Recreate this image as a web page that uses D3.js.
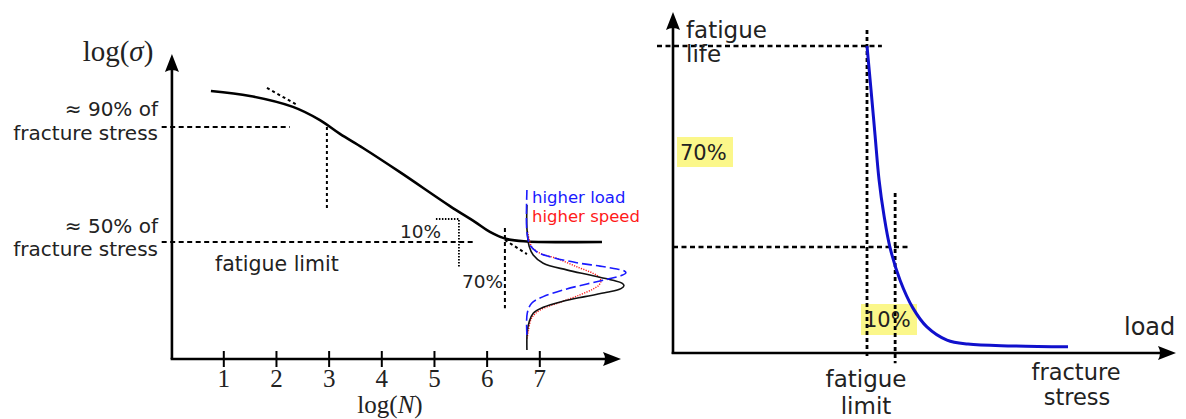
<!DOCTYPE html>
<html>
<head>
<meta charset="utf-8">
<script src="https://cdnjs.cloudflare.com/ajax/libs/d3/7.8.5/d3.min.js"></script>
<style>
  html, body { margin: 0; padding: 0; background: #fff; }
  svg { display: block; }
  .sans { font-family: "DejaVu Sans", sans-serif; fill: #222; }
  .serif { font-family: "Liberation Serif", "DejaVu Serif", serif; fill: #222; }
</style>
</head>
<body>
<svg id="chart" width="1186" height="419"></svg>
<script>
// ---------------- DATA (left panel: S-N curve, x = log N, y = relative log stress) ----------------
const xTicks = [1, 2, 3, 4, 5, 6, 7];
const snLogN   = [0.765, 1.506, 2.322, 2.835, 3.215, 3.652, 4.354, 5.303, 5.777, 6.062, 6.385, 6.765, 8.19];
const snStress = [1.025, 1.008, 0.970, 0.924, 0.876, 0.827, 0.743, 0.625, 0.570, 0.535, 0.510, 0.502, 0.500];

// distributions drawn at the right end (density, stress)
const distBase = 6.765;
const distBlackDensity = [0, 0, 0.023, 0.063, 0.163, 0.397, 0.63, 0.86, 0.95, 0.97, 0.94, 0.80, 0.58, 0.36, 0.163, 0.063, 0.023, 0.003, 0];
const distBlackStress  = [0.629, 0.548, 0.484, 0.455, 0.426, 0.403, 0.385, 0.367, 0.357, 0.348, 0.338, 0.325, 0.310, 0.294, 0.273, 0.252, 0.223, 0.188, 0.124];
const distBlueDensity  = [0, 0, 0.03, 0.097, 0.23, 0.497, 0.73, 0.90, 0.97, 0.99, 0.95, 0.80, 0.60, 0.37, 0.163, 0.047, 0.003, 0];
const distBlueStress   = [0.681, 0.536, 0.490, 0.466, 0.449, 0.428, 0.416, 0.406, 0.400, 0.393, 0.384, 0.370, 0.354, 0.334, 0.310, 0.287, 0.252, 0.177];
const distRedDensity   = [0.007, 0.047, 0.13, 0.297, 0.497, 0.663, 0.72, 0.74, 0.72, 0.66, 0.53, 0.33, 0.13, 0.047, 0.013, 0.003];
const distRedStress    = [0.536, 0.484, 0.461, 0.443, 0.414, 0.391, 0.378, 0.364, 0.350, 0.336, 0.316, 0.290, 0.263, 0.235, 0.188, 0.165];

// guide lines (left) in data units: [x1, y1, x2, y2]
const guide90     = [-0.17, 0.9, 2.263, 0.9];
const guide90Drop = [2.967, 0.9, 2.967, 0.611];
const guide50     = [-0.17, 0.5, 5.777, 0.5];
const box10       = [[5.037, 0.58], [5.474, 0.58], [5.474, 0.413]];
const drop70      = [6.347, 0.549, 6.347, 0.270];
const tangentTop  = [1.829, 1.036, 2.398, 0.977];
const tangentLow  = [6.347, 0.507, 6.765, 0.458];

// ---------------- DATA (right panel: fatigue life vs load) ----------------
const lifeLoad = [0.5, 0.51, 0.52, 0.530, 0.542, 0.557, 0.582, 0.614, 0.649, 0.699, 0.751, 0.863, 1.0];
const lifeVal  = [1.0, 0.857, 0.710, 0.564, 0.450, 0.345, 0.238, 0.147, 0.085, 0.042, 0.029, 0.023, 0.020];
const fatigueLimitLoad = 0.5;
const load10 = 0.570;
const life70 = 0.345;

// ---------------- SCALES ----------------
const svg = d3.select("#chart");
const x = d3.scaleLinear().domain([1, 7]).range([223.3, 539.3]);
const y = d3.scaleLinear().domain([0.5, 0.9]).range([242, 127]);
const dens = d3.scaleLinear().domain([0, 1]).range([x(distBase), x(distBase) + 100]);
const xl = d3.scaleLinear().domain([0.5, 1.0]).range([867, 1068]);
const yl = d3.scaleLinear().domain([0, 1]).range([353, 46]);

const L = svg.append("g");
const R = svg.append("g");

function arrow(g, tx, ty, dir) {
  const len = 18, hw = 7, notch = 4;
  let p;
  if (dir === "up") p = `M${tx},${ty} L${tx + hw},${ty + len} Q${tx},${ty + len - notch} ${tx - hw},${ty + len} Z`;
  else p = `M${tx},${ty} L${tx - len},${ty - hw} Q${tx - len + notch},${ty} ${tx - len},${ty + hw} Z`;
  g.append("path").attr("d", p).attr("fill", "#000");
}
function seg(g, a, dash, w, color) {
  g.append("line").attr("x1", a[0]).attr("y1", a[1]).attr("x2", a[2]).attr("y2", a[3])
    .attr("stroke", color || "#000").attr("stroke-width", w).attr("stroke-dasharray", dash);
}
const dataSeg = (a) => [x(a[0]), y(a[1]), x(a[2]), y(a[3])];

// ---------------- LEFT PANEL ----------------
const axX0 = x(0) + 1.3, axY0 = 359;
seg(L, dataSeg(guide90), "5,3.5", 1.8);
seg(L, dataSeg(guide90Drop), "3,3", 2);
seg(L, dataSeg(guide50), "5,3.5", 1.8);
L.append("path").attr("d", d3.line().x(d => x(d[0])).y(d => y(d[1]))(box10))
  .attr("fill", "none").attr("stroke", "#000").attr("stroke-width", 1.8).attr("stroke-dasharray", "1.5,1.5");
seg(L, dataSeg(drop70), "4,3", 2);
seg(L, dataSeg(tangentTop), "3,3", 2);
seg(L, dataSeg(tangentLow), "3,3", 2);

// axes
L.append("line").attr("x1", axX0).attr("y1", axY0).attr("x2", axX0).attr("y2", 66).attr("stroke", "#000").attr("stroke-width", 2.6);
arrow(L, axX0, 54, "up");
L.append("line").attr("x1", axX0 - 1.3).attr("y1", axY0).attr("x2", 608).attr("y2", axY0).attr("stroke", "#000").attr("stroke-width", 2.6);
arrow(L, 621, axY0, "right");

const xAxis = d3.axisBottom(x).tickValues(xTicks).tickSize(8).tickFormat(d3.format("d"));
const gx = L.append("g").attr("transform", `translate(0,${axY0})`).call(xAxis);
gx.select(".domain").remove();
gx.selectAll(".tick line").attr("y1", -8).attr("y2", 8).attr("stroke", "#000").attr("stroke-width", 2);
gx.selectAll(".tick text").attr("y", 28).attr("dy", null)
  .style("font-family", '"Liberation Serif", serif').style("font-size", "25px").attr("fill", "#222");

// S-N curve
const lineSN = d3.line().x(d => x(d[0])).y(d => y(d[1])).curve(d3.curveCatmullRom.alpha(0.5));
L.append("path").attr("d", lineSN(d3.zip(snLogN, snStress)))
  .attr("fill", "none").attr("stroke", "#000").attr("stroke-width", 2.6);

// distributions
const lineD = d3.line().x(d => dens(d[0])).y(d => y(d[1])).curve(d3.curveCatmullRom.alpha(0.5));
L.append("path").attr("d", lineD(d3.zip(distRedDensity, distRedStress)))
  .attr("fill", "none").attr("stroke", "#ff1a1a").attr("stroke-width", 1.4).attr("stroke-dasharray", "1.2,1.3");
L.append("path").attr("d", lineD(d3.zip(distBlackDensity, distBlackStress)))
  .attr("fill", "none").attr("stroke", "#111").attr("stroke-width", 1.6);
L.append("path").attr("d", lineD(d3.zip(distBlueDensity, distBlueStress)))
  .attr("fill", "none").attr("stroke", "#1a1aff").attr("stroke-width", 1.6).attr("stroke-dasharray", "10,4");

// left texts
const lt = (tx, ty, s, size, anchor, color) => L.append("text").attr("x", tx).attr("y", ty)
  .attr("class", "sans").style("font-size", size + "px").attr("text-anchor", anchor || "start")
  .style("fill", color || "#222").text(s);

const ls = L.append("text").attr("x", 118).attr("y", 61).attr("text-anchor", "middle")
  .attr("class", "serif").style("font-size", "29px");
ls.append("tspan").text("log(");
ls.append("tspan").style("font-style", "italic").text("σ");
ls.append("tspan").text(")");

const ln = L.append("text").attr("x", 390).attr("y", 413).attr("text-anchor", "middle")
  .attr("class", "serif").style("font-size", "25px");
ln.append("tspan").text("log(");
ln.append("tspan").style("font-style", "italic").text("N");
ln.append("tspan").text(")");

lt(158, 116, "≈ 90% of", 20, "end");
lt(158, 140, "fracture stress", 20, "end");
lt(158, 233, "≈ 50% of", 20, "end");
lt(158, 256, "fracture stress", 20, "end");
lt(215, 271, "fatigue limit", 20.5);
lt(400, 238, "10%", 18.5);
lt(462, 288, "70%", 18.5);
lt(532, 203, "higher load", 16.5, "start", "#1a1aff");
lt(532, 222, "higher speed", 16.5, "start", "#ff1a1a");

// ---------------- RIGHT PANEL ----------------
const rAxX = 673, rAxY = 353;
R.append("rect").attr("x", 677).attr("y", 137).attr("width", 56).attr("height", 30).attr("fill", "#fbf78a");
R.append("rect").attr("x", 861).attr("y", 304).attr("width", 56).attr("height", 31).attr("fill", "#fbf78a");

seg(R, [xl(-0.0224), yl(1), xl(0.537), yl(1)], "5,3.5", 2.5);
seg(R, [rAxX, yl(life70), xl(0.602), yl(life70)], "5,3.5", 2.5);
seg(R, [xl(fatigueLimitLoad), yl(1.052), xl(fatigueLimitLoad), yl(-0.013)], "4,3", 2.8);
seg(R, [xl(load10), yl(0.521), xl(load10), yl(-0.033)], "4,3", 2.8);

R.append("line").attr("x1", rAxX).attr("y1", rAxY + 1).attr("x2", rAxX).attr("y2", 26).attr("stroke", "#000").attr("stroke-width", 2.6);
arrow(R, rAxX, 12, "up");
R.append("line").attr("x1", rAxX - 1.3).attr("y1", rAxY).attr("x2", 1162).attr("y2", rAxY).attr("stroke", "#000").attr("stroke-width", 2.6);
arrow(R, 1176, rAxY, "right");

const lineL = d3.line().x(d => xl(d[0])).y(d => yl(d[1])).curve(d3.curveCatmullRom.alpha(0.5));
R.append("path").attr("d", lineL(d3.zip(lifeLoad, lifeVal)))
  .attr("fill", "none").attr("stroke", "#1010cc").attr("stroke-width", 3);

const rt = (tx, ty, s, size, anchor) => R.append("text").attr("x", tx).attr("y", ty)
  .attr("class", "sans").style("font-size", size + "px").attr("text-anchor", anchor || "start").text(s);
rt(686, 38, "fatigue", 23);
rt(686, 62, "life", 23);
rt(680, 160, "70%", 21);
rt(864, 327, "10%", 21);
rt(1124, 335, "load", 24);
rt(866, 387, "fatigue", 23, "middle");
rt(866, 414, "limit", 23, "middle");
rt(1076, 380, "fracture", 22.5, "middle");
rt(1077, 405, "stress", 22.5, "middle");
</script>
</body>
</html>
